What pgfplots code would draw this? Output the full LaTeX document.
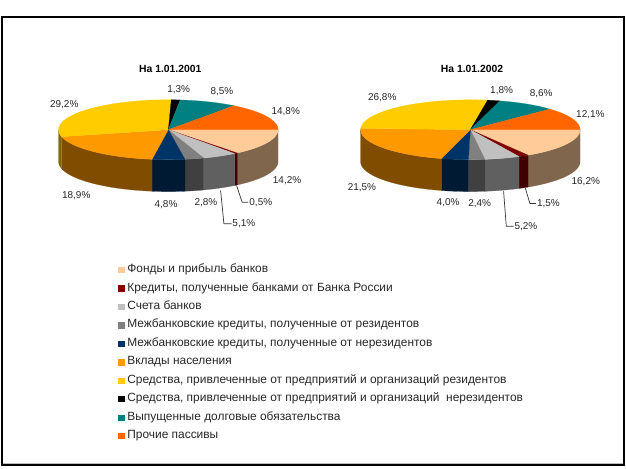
\documentclass[border=0pt]{standalone}
\usepackage{fontspec}
\setmainfont{Liberation Sans}
\usepackage{pgfplots}
\pgfplotsset{compat=1.18}

\definecolor{fonds}{HTML}{FFCC99}   \definecolor{fondsD}{HTML}{80664D}
\definecolor{kred}{HTML}{800000}    \definecolor{kredD}{HTML}{400000}
\definecolor{scheta}{HTML}{C0C0C0}  \definecolor{schetaD}{HTML}{606060}
\definecolor{mbrez}{HTML}{808080}   \definecolor{mbrezD}{HTML}{404040}
\definecolor{mbnon}{HTML}{003366}   \definecolor{mbnonD}{HTML}{001A33}
\definecolor{vklad}{HTML}{FF9900}   \definecolor{vkladD}{HTML}{804D00}
\definecolor{sredr}{HTML}{FFCC00}   \definecolor{sredrD}{HTML}{806600}
\definecolor{sredn}{HTML}{000000}   \definecolor{srednD}{HTML}{000000}
\definecolor{dolg}{HTML}{008080}    \definecolor{dolgD}{HTML}{004040}
\definecolor{proch}{HTML}{FF6600}   \definecolor{prochD}{HTML}{803300}

% shares in percent, clockwise from due east; sum is 100.1 in both years
\def\yearA{14.2/fonds,0.5/kred,5.1/scheta,2.8/mbrez,4.8/mbnon,18.9/vklad,29.2/sredr,1.3/sredn,8.5/dolg,14.8/proch}
\def\yearB{16.2/fonds,1.5/kred,5.2/scheta,2.4/mbrez,4.0/mbnon,21.5/vklad,26.8/sredr,1.8/sredn,8.6/dolg,12.1/proch}

\newcommand\piecy{130}
\newcommand\pierx{110}
\newcommand\piery{30}
\newcommand\piedepth{32}

% append an elliptic arc to \pts
\newcommand\arcpts[4]{%
  \pgfmathtruncatemacro\nst{ceil(abs(#4-#3)/3)+1}%
  \foreach \k in {0,...,\nst}{%
    \pgfmathsetmacro\tt{#3+(#4-#3)*\k/\nst}%
    \pgfmathsetmacro\px{#1+\pierx*cos(\tt)}%
    \pgfmathsetmacro\py{#2+\piery*sin(\tt)}%
    \xdef\pts{\pts (\px,\py)}%
  }%
}
\newcommand\drawpie[2]{%
  \gdef\cum{0}%
  \foreach \v/\c in #2 {%
    \pgfmathsetmacro\aa{\cum}%
    \pgfmathsetmacro\bb{\cum+\v*360/100.1}%
    \xdef\cum{\bb}%
    \pgfmathtruncatemacro\vis{\aa<180 ? 1 : 0}%
    \ifnum\vis=1
      \pgfmathsetmacro\ee{min(\bb,180)}%
      \gdef\pts{}%
      \arcpts{#1}{\piecy}{\aa}{\ee}%
      \pgfmathsetmacro\low{\piecy+\piedepth}%
      \arcpts{#1}{\low}{\ee}{\aa}%
      \edef\temp{\noexpand\addplot[forget plot,fill=\c D,draw=\c D,line width=0.2bp] coordinates {\pts} -- cycle;}%
      \temp
    \fi
  }%
  \gdef\cum{0}%
  \foreach \v/\c in #2 {%
    \pgfmathsetmacro\aa{\cum}%
    \pgfmathsetmacro\bb{\cum+\v*360/100.1}%
    \xdef\cum{\bb}%
    \xdef\pts{(#1,\piecy)}%
    \arcpts{#1}{\piecy}{\aa}{\bb}%
    \edef\temp{\noexpand\addplot[forget plot,fill=\c,draw=\c,line width=0.2bp] coordinates {\pts} -- cycle;}%
    \temp
  }%
}
\newcommand\lab[3]{\node[font=\fontsize{10bp}{12bp}\selectfont,text=black!85,inner sep=0pt] at (axis cs:#1,#2) {#3};}

\begin{document}
\begin{tikzpicture}
\begin{axis}[
    scale only axis, width=626bp, height=470bp,
    xmin=0, xmax=626, ymin=0, ymax=470, y dir=reverse,
    hide axis, clip=false,
    legend image code/.code={\fill[#1,draw=none] (0bp,-3.2bp) rectangle (6.5bp,3.2bp);\path[draw=none] (0bp,0bp) -- (9bp,0bp);},
    legend cell align=left,
    legend style={
      at={(0.1885,0.4362)}, anchor=north west, draw=none, fill=none,
      font=\fontsize{11.95bp}{12bp}\selectfont,
      inner sep=0pt, row sep=7.5bp,
      nodes={inner sep=0pt, text height=8bp, text depth=3bp, text=black!85},
    },
  ]
\path (axis cs:0,0) rectangle (axis cs:626,470);
\drawpie{168.3}{\yearA}
\drawpie{471}{\yearB}

% leader lines
\addplot[forget plot,black!80,line width=0.7bp] coordinates {(220.7,190.7) (224,224.3) (231.7,224.3)};
\addplot[forget plot,black!80,line width=0.7bp] coordinates {(236.7,186) (242.3,202.7) (248.3,202.7)};
\addplot[forget plot,black!80,line width=0.7bp] coordinates {(504.3,191.7) (507,226.7) (514.3,226.7)};
\addplot[forget plot,black!80,line width=0.7bp] coordinates {(526,188.3) (530.7,204) (536.7,204)};

% page frame
\addplot[forget plot,black,line width=1.6bp] coordinates {(1.4,467) (1.4,16.8) (625,16.8) (625,465)};
\addplot[forget plot,black,line width=2bp] coordinates {(0.6,466) (626,466)};
\addplot[forget plot,black!25,line width=1bp] coordinates {(2.2,464.4) (624,464.4)};

\node[font=\bfseries\fontsize{10.4bp}{12bp}\selectfont,inner sep=0pt] at (axis cs:170.3,69.3) {На 1.01.2001};
\node[font=\bfseries\fontsize{10.4bp}{12bp}\selectfont,inner sep=0pt] at (axis cs:472.7,69.3) {На 1.01.2002};

\lab{178.7}{90}{1,3\%}
\lab{222}{91.7}{8,5\%}
\lab{286}{112}{14,8\%}
\lab{64}{104.7}{29,2\%}
\lab{76}{195.7}{18,9\%}
\lab{166}{204.7}{4,8\%}
\lab{206}{202.7}{2,8\%}
\lab{244}{224.3}{5,1\%}
\lab{261}{202.7}{0,5\%}
\lab{287.3}{181}{14,2\%}

\lab{502.3}{91}{1,8\%}
\lab{542}{94.3}{8,6\%}
\lab{591.3}{115}{12,1\%}
\lab{382.7}{97.7}{26,8\%}
\lab{362.3}{187.7}{21,5\%}
\lab{448.7}{203.3}{4,0\%}
\lab{480.3}{204}{2,4\%}
\lab{526.7}{226.7}{5,2\%}
\lab{549.3}{204}{1,5\%}
\lab{586.7}{182.3}{16,2\%}

\addlegendimage{fill=fonds}\addlegendentry{Фонды и прибыль банков}
\addlegendimage{fill=kred}\addlegendentry{Кредиты, полученные банками от Банка России}
\addlegendimage{fill=scheta}\addlegendentry{Счета банков}
\addlegendimage{fill=mbrez}\addlegendentry{Межбанковские кредиты, полученные от резидентов}
\addlegendimage{fill=mbnon}\addlegendentry{Межбанковские кредиты, полученные от нерезидентов}
\addlegendimage{fill=vklad}\addlegendentry{Вклады населения}
\addlegendimage{fill=sredr}\addlegendentry{Средства, привлеченные от предприятий и организаций резидентов}
\addlegendimage{fill=sredn}\addlegendentry{Средства, привлеченные от предприятий и организаций\ \ нерезидентов}
\addlegendimage{fill=dolg}\addlegendentry{Выпущенные долговые обязательства}
\addlegendimage{fill=proch}\addlegendentry{Прочие пассивы}
\end{axis}
\end{tikzpicture}
\end{document}
